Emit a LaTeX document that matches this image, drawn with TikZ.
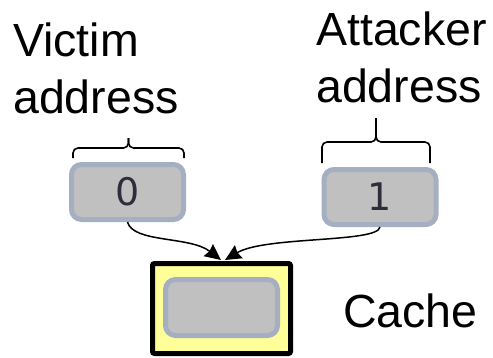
\documentclass[tikz,border=0pt]{standalone}
\usepackage{fontspec}
\setmainfont{Liberation Sans}
\newfontfamily\digitfont{DejaVu Sans}
\usetikzlibrary{arrows.meta}
\definecolor{slotfill}{HTML}{C0C0C0}
\definecolor{slotedge}{HTML}{A6AEC2}
\definecolor{cachefill}{HTML}{FFFF99}
\definecolor{digitcol}{HTML}{2E2E3A}
\begin{document}
\begin{tikzpicture}[x=1pt,y=-1pt,
  slot/.style={draw=slotedge, fill=slotfill, line width=5pt, rounded corners=10pt,
    minimum width=112pt, minimum height=55pt, inner sep=0pt,
    font=\digitfont\fontsize{38}{40}\selectfont, text=digitcol},
  cachebox/.style={draw=black, fill=cachefill, line width=5pt, rounded corners=2pt,
    minimum width=138pt, minimum height=90pt, inner sep=0pt},
  lbl/.style={inner sep=0pt, align=left, font=\fontsize{46.5}{56.5}\selectfont},
  bracket/.style={line width=1.6pt, rounded corners=5pt},
  flow/.style={line width=1.5pt, -{Stealth[length=16pt,width=15pt,inset=1.5pt]}}]
\useasboundingbox (0,0) rectangle (493,357);

% address labels
\node[lbl, anchor=north west] (victim) at (13,22.7) {Victim\\address};
\node[lbl, anchor=north west] (attacker) at (316,11.7) {Attacker\\address};

% address slots
\node[slot] (slot0) at (127.5,192) {0};
\node[slot] (slot1) at (380,197) {1};

% braces above the slots
\draw[bracket] (73,158) -- (73,148) -- (128.5,148) -- (128.5,138);
\draw[bracket] (184,158) -- (184,148) -- (128.5,148) -- (128.5,138);
\draw[bracket] (322,163) -- (322,142) -- (376,142) -- (376,118);
\draw[bracket] (430,163) -- (430,142) -- (376,142) -- (376,118);

% cache with its single line
\node[cachebox] (cache) at (221.5,308.5) {};
\node[slot, minimum width=112pt, minimum height=56pt] (line) at (221.5,307.5) {};
\node[lbl, anchor=base west] (cachelbl) at (343,327) {Cache};

% both addresses map to the same line
\coordinate (tipL) at (221,260);
\coordinate (tipR) at (225,260);
\draw[flow] (slot0.south) .. controls (133,243) and (190,236) .. (tipL);
\draw[flow] (slot1.south) .. controls (378,243) and (265,236) .. (tipR);
\end{tikzpicture}
\end{document}
